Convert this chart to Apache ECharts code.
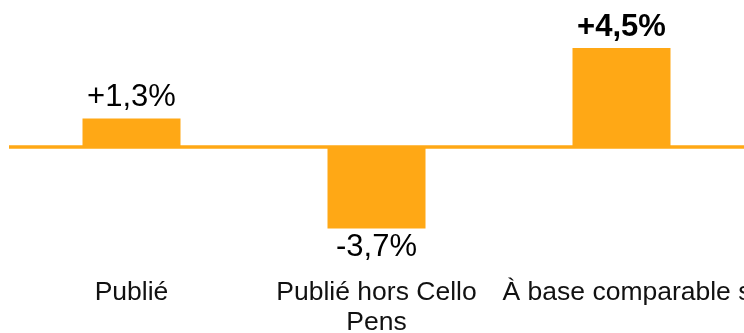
<!DOCTYPE html>
<html>
<head>
<meta charset="utf-8">
<script src="https://cdn.jsdelivr.net/npm/echarts@6/dist/echarts.min.js"></script>
<style>html,body{margin:0;padding:0;background:#fff}#c{width:744px;height:333px}</style>
</head>
<body>
<div id="c"></div>
<script>
const categories = ['Publié', 'Publié hors Cello\nPens', 'À base comparable s'];
const values = [1.3, -3.7, 4.5];
const valueLabels = ['+1,3%', '-3,7%', '+4,5%'];
const boldLabel = [false, false, true];

const color = '#FFA815';
const chart = echarts.init(document.getElementById('c'), null, {renderer: 'canvas'});
chart.setOption({
  animation: false,
  grid: {left: 9, right: 0, top: 37, height: 220, outerBoundsMode: 'none', containLabel: false},
  xAxis: {
    type: 'category',
    data: categories.map((c, i) => i === 2 ? {value: c, textStyle: {padding: [0, 0, 0, 11]}} : c),
    position: 'bottom',
    axisLine: {show: false, onZero: false},
    axisTick: {show: false},
    axisLabel: {
      interval: 0, margin: 21, color: '#111',
      fontFamily: 'Liberation Sans, Arial, sans-serif', fontSize: 26.5, lineHeight: 30
    }
  },
  yAxis: {
    type: 'value', min: -5, max: 5, show: false, splitLine: {show: false}
  },
  series: [{
    type: 'bar',
    barWidth: 98,
    itemStyle: {color: color},
    data: values.map((v, i) => ({
      value: v,
      label: {
        show: true,
        position: v >= 0 ? 'top' : 'bottom',
        distance: v >= 0 ? 5 : 4,
        formatter: valueLabels[i],
        fontFamily: 'Liberation Sans, Arial, sans-serif',
        fontSize: 31,
        fontWeight: boldLabel[i] ? 'bold' : 'normal',
        color: '#000'
      }
    })),
    markLine: {
      silent: true,
      symbol: ['none', 'none'],
      label: {show: false},
      lineStyle: {color: color, width: 3.5, type: 'solid'},
      data: [{yAxis: 0}]
    }
  }]
});
</script>
</body>
</html>
